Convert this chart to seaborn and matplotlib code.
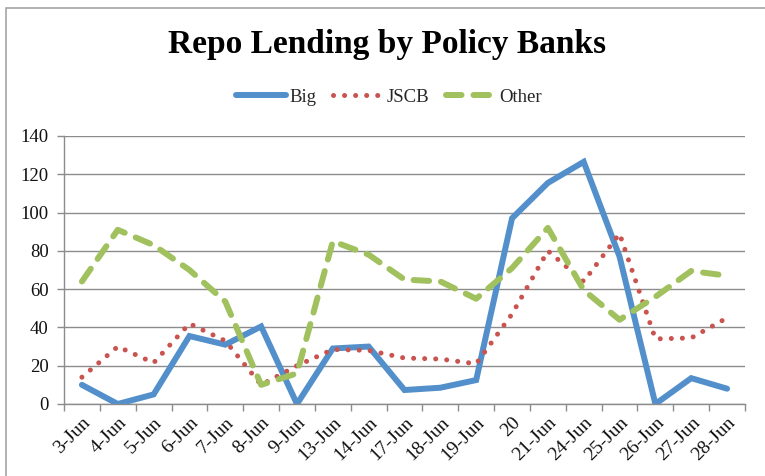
import matplotlib
matplotlib.use("Agg")
import matplotlib.pyplot as plt
import seaborn as sns
import pandas as pd
from matplotlib.patches import Rectangle

dates = ["3-Jun", "4-Jun", "5-Jun", "6-Jun", "7-Jun", "8-Jun", "9-Jun", "13-Jun",
         "14-Jun", "17-Jun", "18-Jun", "19-Jun", "20", "21-Jun", "24-Jun", "25-Jun",
         "26-Jun", "27-Jun", "28-Jun"]
big = [10, 0, 5, 35.5, 31, 40.5, 0, 29, 30, 7.3, 8.5, 12.5, 97, 115.5, 126.5, 77, 0, 13.5, 8]
jscb = [14, 30, 21.5, 42, 33, 10, 20, 28.5, 28, 24, 23.5, 21, 47, 80, 64, 89, 34, 34.5, 45]
other = [64, 91, 83, 70, 53.5, 10, 16, 85, 78, 65, 64, 55, 71, 92, 59.5, 44, 56, 69.5, 67]
yticks = [0, 20, 40, 60, 80, 100, 120, 140]

df = pd.DataFrame({"date": dates, "Big": big, "JSCB": jscb, "Other": other})

sns.set_theme(style="white")
plt.rcParams["font.family"] = ["Liberation Serif", "DejaVu Serif"]

W, H = 765, 476
fig = plt.figure(figsize=(W / 100, H / 100), dpi=100)
ax = fig.add_axes([64 / W, 1 - 404 / H, (745 - 64) / W, (404 - 136) / H])

gridc = "#8c8c8c"
ax.set_axisbelow(True)
ax.yaxis.grid(True, color=gridc, lw=1.0)

sns.lineplot(data=df, x="date", y="Big", ax=ax, color="#5390CB", lw=4.3,
             sort=False, label="Big", solid_capstyle="round", solid_joinstyle="miter")
sns.lineplot(data=df, x="date", y="JSCB", ax=ax, color="#C8534F", lw=3.6,
             sort=False, label="JSCB", linestyle=(0, (0.01, 2.2)), dash_capstyle="round")
sns.lineplot(data=df, x="date", y="Other", ax=ax, color="#A0C15E", lw=4.3,
             sort=False, label="Other", linestyle=(0, (2.6, 2.0)), dash_capstyle="round")

n = len(dates)
ax.set_xlim(-0.5, n - 0.5)
ax.set_ylim(0, 140)
ax.set_yticks(yticks)
ax.set_yticklabels([str(v) for v in yticks], fontsize=13.5, color="#111111")
ax.set_xticks(range(n))
ax.set_xticklabels(dates, rotation=45, ha="right", rotation_mode="anchor",
                   fontsize=14, color="#111111")
ax.set_xticks([i - 0.5 for i in range(n + 1)], minor=True)
ax.tick_params(axis="x", which="major", length=0, pad=7)
ax.tick_params(axis="x", which="minor", length=5, color=gridc, width=1, direction="out", bottom=True)
ax.tick_params(axis="y", which="major", length=5, color=gridc, width=1, direction="out", left=True, pad=6)
ax.set_xlabel("")
ax.set_ylabel("")
for s in ["top", "right"]:
    ax.spines[s].set_visible(False)
for s in ["left", "bottom"]:
    ax.spines[s].set_color(gridc)
    ax.spines[s].set_linewidth(1.0)

ax.get_legend().remove()
handles, labels = ax.get_legend_handles_labels()
fig.legend(handles, labels, loc="center", bbox_to_anchor=(389 / W, 1 - 97 / H), ncol=3,
           frameon=False, fontsize=13.5, handlelength=2.7, handletextpad=0.15,
           columnspacing=0.9)

fig.text(387 / W, 1 - 45 / H, "Repo Lending by Policy Banks", ha="center", va="center",
         fontsize=24, fontweight="bold", color="black")

fig.patches.append(Rectangle((6 / W, -0.1), 1.2, 1 - 8 / H + 0.1, transform=fig.transFigure,
                             fill=False, edgecolor="#a6a6a6", lw=1.2))

fig.savefig("out.png", dpi=100)
